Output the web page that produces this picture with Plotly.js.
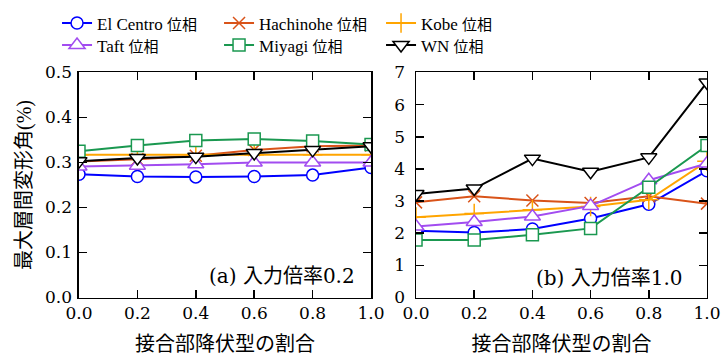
<!DOCTYPE html>
<html><head><meta charset="utf-8">
<script src="https://cdn.plot.ly/plotly-3.0.1.min.js"></script>
<style>body{margin:0;padding:0;background:#fff}#chart{width:722px;height:361px}</style>
</head><body><div id="chart"></div>
<script>
const ratio = [0.0, 0.2, 0.4, 0.6, 0.8, 1.0];
const seriesNames = ["El Centro", "Hachinohe", "Kobe", "Taft", "Miyagi", "WN"];
const phaseLabel = "位相";
// (a) input scale 0.2
const elCentroA = [0.274, 0.269, 0.268, 0.269, 0.272, 0.289];
const hachinoheA = [0.302, 0.307, 0.315, 0.328, 0.336, 0.338];
const kobeA = [0.317, 0.317, 0.317, 0.317, 0.317, 0.317];
const taftA = [0.291, 0.293, 0.296, 0.300, 0.300, 0.300];
const miyagiA = [0.325, 0.338, 0.349, 0.352, 0.348, 0.340];
const wnA = [0.303, 0.310, 0.313, 0.321, 0.328, 0.336];
// (b) input scale 1.0
const elCentroB = [2.08, 2.02, 2.13, 2.46, 2.90, 3.94];
const hachinoheB = [2.96, 3.15, 3.02, 2.94, 3.15, 2.92];
const kobeB = [2.50, 2.61, 2.73, 2.83, 3.04, 4.24];
const taftB = [2.21, 2.35, 2.52, 2.85, 3.65, 4.17];
const miyagiB = [1.79, 1.79, 1.95, 2.15, 3.43, 4.73];
const wnB = [3.22, 3.39, 4.32, 3.91, 4.36, 6.69];
const xTicks = ["0.0", "0.2", "0.4", "0.6", "0.8", "1.0"];

const styles = [
  {color: "#0000ff", symbol: "circle", size: 12, fill: "#ffffff"},
  {color: "#d95319", symbol: "x-thin-open", size: 12, fill: "#d95319"},
  {color: "#ffa500", symbol: "cross-thin-open", size: 14, fill: "#ffa500"},
  {color: "#a24cf0", symbol: "triangle-up", size: 14, fill: "#ffffff"},
  {color: "#1a9850", symbol: "square", size: 12, fill: "#ffffff"},
  {color: "#000000", symbol: "triangle-down", size: 14, fill: "#ffffff"}
];
const dataA = [elCentroA, hachinoheA, kobeA, taftA, miyagiA, wnA];
const dataB = [elCentroB, hachinoheB, kobeB, taftB, miyagiB, wnB];

function mk(i, ys, xa, ya, show) {
  const s = styles[i];
  return {
    x: ratio, y: ys, xaxis: xa, yaxis: ya, type: "scatter", mode: "lines+markers",
    name: seriesNames[i] + ' <span style="font-size:15px">' + phaseLabel + '</span>',
    showlegend: show, legendgroup: "g" + i, legend: i < 3 ? "legend" : "legend2",
    line: {color: s.color, width: 2},
    marker: {symbol: s.symbol, size: s.size, color: s.fill, line: {color: s.color, width: 1.5}}
  };
}
const traces = [];
for (let i = 0; i < 6; i++) traces.push(mk(i, dataA[i], "x", "y", true));
for (let i = 0; i < 6; i++) traces.push(mk(i, dataB[i], "x2", "y2", false));

const fontFam = "Liberation Serif, Noto Sans CJK JP, serif";
const numFam = "DejaVu Serif, Noto Sans CJK JP, serif";
const axisCommon = {
  showgrid: false, zeroline: false, showline: true, linecolor: "#000", linewidth: 1.5,
  mirror: "ticks", ticks: "inside", ticklen: 8, tickwidth: 1.5, tickcolor: "#000",
  tickfont: {family: numFam, size: 17, color: "#000"}
};
const titleFont = {family: fontFam, size: 20, color: "#000"};
const xCommon = Object.assign({}, axisCommon, {
  range: [0, 1], tickvals: ratio, ticktext: xTicks,
  title: {text: "接合部降伏型の割合", font: titleFont, standoff: 14}
});
const legendCommon = {orientation: "h", x: 0.079, xanchor: "left", yanchor: "top",
  entrywidth: 117, font: {family: fontFam, size: 17, color: "#000"}, bgcolor: "rgba(0,0,0,0)"};
const layout = {
  width: 722, height: 361, paper_bgcolor: "#fff", plot_bgcolor: "#fff",
  margin: {l: 0, r: 0, t: 0, b: 0},
  font: {family: fontFam, color: "#000"},
  xaxis: Object.assign({}, xCommon, {domain: [0.1094, 0.5139], anchor: "y"}),
  xaxis2: Object.assign({}, xCommon, {domain: [0.5762, 0.9792], anchor: "y2"}),
  yaxis: Object.assign({}, axisCommon, {domain: [0.1759, 0.7992], anchor: "x", range: [0, 0.5], dtick: 0.1, tickformat: ".1f",
    ticklabelstandoff: 2,
    title: {text: "最大層間変形角(%)", font: titleFont, standoff: 8}}),
  yaxis2: Object.assign({}, axisCommon, {domain: [0.1759, 0.7992], anchor: "x2", range: [0, 7], dtick: 1, ticklabelstandoff: 6}),
  legend: Object.assign({}, legendCommon, {y: 0.985}),
  legend2: Object.assign({}, legendCommon, {y: 0.924}),
  annotations: [
    {text: "(a) 入力倍率0.2", xref: "x", yref: "y", x: 0.952, y: 0.047, xanchor: "right", yanchor: "middle", showarrow: false,
     font: {family: numFam, size: 20, color: "#000"}},
    {text: "(b) 入力倍率1.0", xref: "x2", yref: "y2", x: 0.924, y: 0.6, xanchor: "right", yanchor: "middle", showarrow: false,
     font: {family: numFam, size: 20, color: "#000"}}
  ]
};
Plotly.newPlot("chart", traces, layout, {displayModeBar: false, staticPlot: true});
</script></body></html>
